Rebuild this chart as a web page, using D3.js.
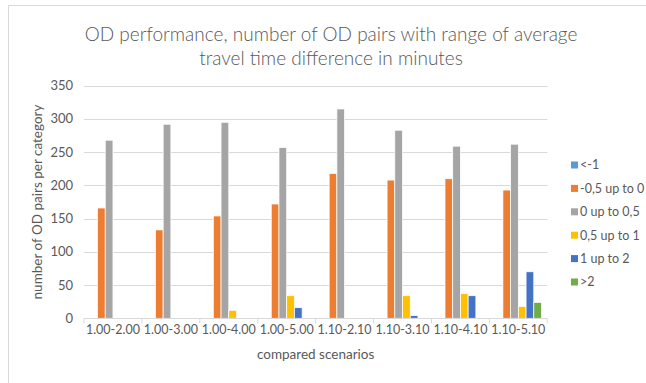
<!DOCTYPE html>
<html><head><meta charset="utf-8">
<script src="https://cdn.jsdelivr.net/npm/d3@7"></script>
<style>
html,body{margin:0;padding:0;background:#fff;}
svg{display:block;font-family:Lato,"Open Sans",sans-serif;}
</style></head>
<body><svg id="c" width="646" height="383"></svg>
<script>
const categories = ["1.00-2.00","1.00-3.00","1.00-4.00","1.00-5.00","1.10-2.10","1.10-3.10","1.10-4.10","1.10-5.10"];
const seriesNames = ["<-1","-0,5 up to 0","0 up to 0,5","0,5 up to 1","1 up to 2",">2"];
const seriesColors = ["#5B9BD5","#ED7D31","#A5A5A5","#FFC000","#4472C4","#70AD47"];
const sLt1     = [0,0,0,0,0,0,0,0];
const sM05to0  = [166,133,154,172,218,208,210,193];
const s0to05   = [268,292,295,257,315,283,259,262];
const s05to1   = [0,0,12,34,0,34,37,18];
const s1to2    = [0,0,0,16,0,4,34,70];
const sGt2     = [0,0,0,0,0,0,0,24];
const yTicks   = [0,50,100,150,200,250,300,350];
const titleLines = ["OD performance, number of OD pairs with range of average","travel time difference in minutes"];
const xTitle = "compared scenarios";
const yTitle = "number of OD pairs per category";

const seriesValues = [sLt1,sM05to0,s0to05,s05to1,s1to2,sGt2];
const svg = d3.select("#c");
const txt = "#595959";

// chart frame
svg.append("rect").attr("x",8.5).attr("y",5.5).attr("width",700).attr("height",400)
  .attr("fill","none").attr("stroke","#d9d9d9").attr("stroke-width",1);

const L = 84, R = 547.3, T = 85.7, B = 318.3;
const x0 = d3.scaleBand().domain(categories).range([L,R]).padding(0);
const x1 = d3.scaleBand().domain(seriesNames).range([0,x0.bandwidth()]).paddingInner(0).paddingOuter(0.75);
const y = d3.scaleLinear().domain([0,350]).range([B,T]);

// gridlines
svg.append("g").selectAll("line").data(yTicks.filter(d=>d>0)).join("line")
  .attr("x1",L).attr("x2",R).attr("y1",d=>Math.round(y(d))+0.5).attr("y2",d=>Math.round(y(d))+0.5)
  .attr("stroke","#d9d9d9").attr("stroke-width",1);

// y labels
svg.append("g").selectAll("text").data(yTicks).join("text")
  .attr("x",73).attr("y",d=>y(d)).attr("dy","0.35em").attr("text-anchor","end")
  .attr("fill",txt).style("font-size","13px").text(d=>d);

// bars
const g = svg.append("g");
seriesNames.forEach((s,si)=>{
  g.append("g").selectAll("rect").data(categories).join("rect")
    .attr("x",(c)=>x0(c)+x1(s))
    .attr("width",x1.bandwidth())
    .attr("y",(c,i)=>y(seriesValues[si][i]))
    .attr("height",(c,i)=>B-y(seriesValues[si][i]))
    .attr("fill",seriesColors[si])
    .attr("stroke","#fff").attr("stroke-width",0.75);
});

// x axis
const xa = svg.append("g").attr("transform",`translate(0,${Math.round(B)+0.5})`)
  .call(d3.axisBottom(x0).tickSize(0).tickFormat(""));
xa.select(".domain").attr("stroke","#d9d9d9").attr("d",`M${L},0H${R}`);
const bounds = categories.map(c=>x0(c)).concat([R]);
svg.append("g").selectAll("line").data(bounds).join("line")
  .attr("x1",d=>d).attr("x2",d=>d).attr("y1",Math.round(B)+0.5).attr("y2",Math.round(B)+5.5)
  .attr("stroke","#d9d9d9");
svg.append("g").selectAll("text").data(categories).join("text")
  .attr("x",c=>x0(c)+x0.bandwidth()/2).attr("y",334).attr("text-anchor","middle")
  .attr("fill",txt).style("font-size","12.5px").text(d=>d);

// axis titles
svg.append("text").attr("x",(L+R)/2).attr("y",359).attr("text-anchor","middle")
  .attr("fill",txt).style("font-size","13.5px").text(xTitle);
svg.append("text").attr("transform",`translate(42,${(T+B)/2}) rotate(-90)`).attr("text-anchor","middle")
  .attr("fill",txt).style("font-size","13.5px").text(yTitle);

// title
const tt = svg.append("g");
titleLines.forEach((t,i)=>{
  tt.append("text").attr("x",331).attr("y",41+i*23.5).attr("text-anchor","middle")
    .attr("fill",txt).style("font-size","19px").style("font-weight",300).text(t);
});

// legend
const lg = svg.append("g");
seriesNames.forEach((s,i)=>{
  const yy = 165 + i*23.4;
  lg.append("rect").attr("x",571).attr("y",yy-3.5).attr("width",7).attr("height",7).attr("fill",seriesColors[i]);
  lg.append("text").attr("x",580).attr("y",yy).attr("dy","0.35em").attr("fill",txt)
    .style("font-size","12.5px").text(s);
});
</script></body></html>
